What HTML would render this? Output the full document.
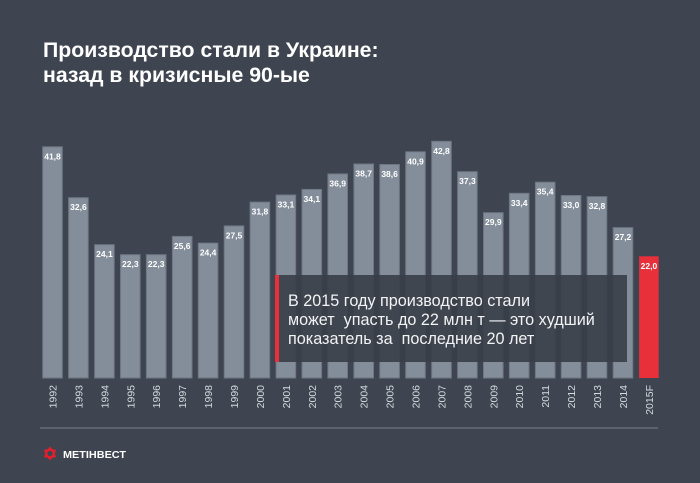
<!DOCTYPE html>
<html><head><meta charset="utf-8"><style>
html,body{margin:0;padding:0;background:#3e4550;}
svg{display:block;}
</style></head><body>
<svg width="700" height="483" viewBox="0 0 700 483" xmlns="http://www.w3.org/2000/svg">
<rect x="0" y="0" width="700" height="483" fill="#3e4550"/>
<g font-family="'Liberation Sans', Arial, sans-serif" font-weight="bold" fill="#ffffff" font-size="21.25">
<text x="43" y="57">Производство стали в Украине:</text>
<text x="43" y="82">назад в кризисные 90-ые</text>
</g>
<g fill="#848e9b" stroke="#6d7682" stroke-width="1">
<rect x="42.7" y="146.8" width="19.6" height="231.2"/>
<rect x="68.6" y="197.7" width="19.6" height="180.3"/>
<rect x="94.6" y="244.7" width="19.6" height="133.3"/>
<rect x="120.5" y="254.7" width="19.6" height="123.3"/>
<rect x="146.4" y="254.7" width="19.6" height="123.3"/>
<rect x="172.4" y="236.4" width="19.6" height="141.6"/>
<rect x="198.3" y="243.1" width="19.6" height="134.9"/>
<rect x="224.2" y="225.9" width="19.6" height="152.1"/>
<rect x="250.1" y="202.1" width="19.6" height="175.9"/>
<rect x="276.1" y="195.0" width="19.6" height="183.0"/>
<rect x="302.0" y="189.4" width="19.6" height="188.6"/>
<rect x="327.9" y="173.9" width="19.6" height="204.1"/>
<rect x="353.9" y="164.0" width="19.6" height="214.0"/>
<rect x="379.8" y="164.5" width="19.6" height="213.5"/>
<rect x="405.7" y="151.8" width="19.6" height="226.2"/>
<rect x="431.7" y="141.3" width="19.6" height="236.7"/>
<rect x="457.6" y="171.7" width="19.6" height="206.3"/>
<rect x="483.5" y="212.7" width="19.6" height="165.3"/>
<rect x="509.4" y="193.3" width="19.6" height="184.7"/>
<rect x="535.4" y="182.2" width="19.6" height="195.8"/>
<rect x="561.3" y="195.5" width="19.6" height="182.5"/>
<rect x="587.2" y="196.6" width="19.6" height="181.4"/>
<rect x="613.2" y="227.6" width="19.6" height="150.4"/>
</g>
<rect x="639.1" y="256.3" width="19.6" height="121.7" fill="#e8303b"/>
<g font-family="'Liberation Sans', Arial, sans-serif" font-weight="bold" fill="#ffffff" font-size="8.5" text-anchor="middle">
<text x="52.5" y="159.3">41,8</text>
<text x="78.4" y="210.2">32,6</text>
<text x="104.4" y="257.2">24,1</text>
<text x="130.3" y="267.2">22,3</text>
<text x="156.2" y="267.2">22,3</text>
<text x="182.2" y="248.9">25,6</text>
<text x="208.1" y="255.6">24,4</text>
<text x="234.0" y="238.4">27,5</text>
<text x="259.9" y="214.6">31,8</text>
<text x="285.9" y="207.5">33,1</text>
<text x="311.8" y="201.9">34,1</text>
<text x="337.7" y="186.4">36,9</text>
<text x="363.7" y="176.5">38,7</text>
<text x="389.6" y="177.0">38,6</text>
<text x="415.5" y="164.3">40,9</text>
<text x="441.5" y="153.8">42,8</text>
<text x="467.4" y="184.2">37,3</text>
<text x="493.3" y="225.2">29,9</text>
<text x="519.2" y="205.8">33,4</text>
<text x="545.2" y="194.7">35,4</text>
<text x="571.1" y="208.0">33,0</text>
<text x="597.0" y="209.1">32,8</text>
<text x="623.0" y="240.1">27,2</text>
<text x="648.9" y="268.8">22,0</text>
</g>
<rect x="275" y="275" width="352" height="87" fill="rgba(56,62,72,0.9)"/>
<rect x="275" y="275" width="4" height="87" fill="#e8303b"/>
<g font-family="'Liberation Sans', Arial, sans-serif" fill="#f2f3f5" font-size="16.2" style="white-space:pre">
<text x="288" y="306" xml:space="preserve">В 2015 году производство стали</text>
<text x="288" y="325" xml:space="preserve">может  упасть до 22 млн т — это худший</text>
<text x="288" y="344" xml:space="preserve">показатель за  последние 20 лет</text>
</g>
<g font-family="'Liberation Sans', Arial, sans-serif" fill="#d5d9de" font-size="10.5" text-anchor="end">
<text transform="translate(56.5,385) rotate(-90)">1992</text>
<text transform="translate(82.4,385) rotate(-90)">1993</text>
<text transform="translate(108.4,385) rotate(-90)">1994</text>
<text transform="translate(134.3,385) rotate(-90)">1995</text>
<text transform="translate(160.2,385) rotate(-90)">1996</text>
<text transform="translate(186.2,385) rotate(-90)">1997</text>
<text transform="translate(212.1,385) rotate(-90)">1998</text>
<text transform="translate(238.0,385) rotate(-90)">1999</text>
<text transform="translate(263.9,385) rotate(-90)">2000</text>
<text transform="translate(289.9,385) rotate(-90)">2001</text>
<text transform="translate(315.8,385) rotate(-90)">2002</text>
<text transform="translate(341.7,385) rotate(-90)">2003</text>
<text transform="translate(367.7,385) rotate(-90)">2004</text>
<text transform="translate(393.6,385) rotate(-90)">2005</text>
<text transform="translate(419.5,385) rotate(-90)">2006</text>
<text transform="translate(445.5,385) rotate(-90)">2007</text>
<text transform="translate(471.4,385) rotate(-90)">2008</text>
<text transform="translate(497.3,385) rotate(-90)">2009</text>
<text transform="translate(523.2,385) rotate(-90)">2010</text>
<text transform="translate(549.2,385) rotate(-90)">2011</text>
<text transform="translate(575.1,385) rotate(-90)">2012</text>
<text transform="translate(601.0,385) rotate(-90)">2013</text>
<text transform="translate(627.0,385) rotate(-90)">2014</text>
<text transform="translate(652.9,385) rotate(-90)">2015F</text>
</g>
<rect x="40" y="427" width="618" height="2" fill="#5a626d"/>
<g transform="translate(50,453.5)">
<polygon fill="#e0202c" points="0,-7 2.2,-4.4 6.1,-3.5 4.8,0 6.1,3.5 2.2,4.4 0,7 -2.2,4.4 -6.1,3.5 -4.8,0 -6.1,-3.5 -2.2,-4.4"/>
<circle cx="0" cy="0" r="2.6" fill="#3e4550"/>
</g>
<text x="63" y="457.8" font-family="'Liberation Sans', Arial, sans-serif" font-weight="bold" font-size="10" fill="#ffffff" textLength="63" lengthAdjust="spacingAndGlyphs">МЕТІНВЕСТ</text>
</svg>
</body></html>
